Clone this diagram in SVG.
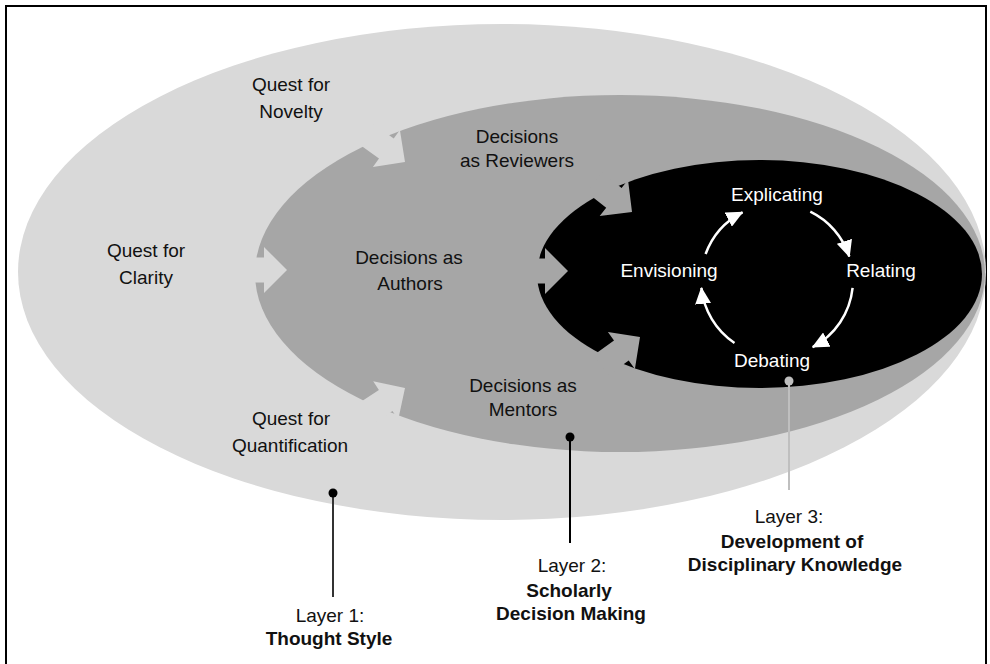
<svg xmlns="http://www.w3.org/2000/svg" width="990" height="664" viewBox="0 0 990 664">
<defs>
<style>
text{font-family:"Liberation Sans",Arial,sans-serif;font-size:19px;text-anchor:middle}
.dk{fill:#111}
.wt{fill:#fff}
.b{font-weight:bold}
.light{fill:#d9d9d9}
.mid{fill:#a6a6a6}
.cyc{fill:none;stroke:#fff;stroke-width:2.5}
</style>
<marker id="ah" markerUnits="userSpaceOnUse" markerWidth="17" markerHeight="16" refX="16" refY="8" orient="auto">
<path d="M0,0 L17,8 L0,16 z" fill="#fff"/>
</marker>
</defs>
<rect x="0" y="0" width="990" height="664" fill="#fff"/>
<rect x="6" y="6" width="980" height="680" fill="none" stroke="#000" stroke-width="2"/>

<g id="layer1-thought-style">
<ellipse class="light" cx="502" cy="272" rx="484" ry="248"/>
<text class="dk" x="291" y="91">Quest for</text>
<text class="dk" x="291" y="118">Novelty</text>
<text class="dk" x="146" y="257">Quest for</text>
<text class="dk" x="146" y="284">Clarity</text>
<text class="dk" x="291" y="425">Quest for</text>
<text class="dk" x="290" y="452">Quantification</text>
</g>

<g id="layer2-decision-making">
<ellipse class="mid" cx="620" cy="273.5" rx="365" ry="178.5"/>
<polygon class="light" points="405,162 399.9,129.9 393.7,138.4 373.5,123.7 358.8,143.9 379.0,158.6 372.9,167.1"/>
<polygon class="light" points="287,270 264,247 264,257.5 239,257.5 239,282.5 264,282.5 264,293"/>
<polygon class="light" points="405,388 373.2,381.2 378.9,390.1 357.9,403.7 371.6,424.6 392.5,411.0 398.2,419.8"/>
<text class="dk" x="517" y="143">Decisions</text>
<text class="dk" x="517" y="167">as Reviewers</text>
<text class="dk" x="409" y="264">Decisions as</text>
<text class="dk" x="410" y="290">Authors</text>
<text class="dk" x="523" y="392">Decisions as</text>
<text class="dk" x="523" y="416">Mentors</text>
</g>

<g id="layer3-disciplinary-knowledge">
<ellipse fill="#000" cx="759.5" cy="274" rx="222.5" ry="114"/>
<polygon class="mid" points="632,212 628.0,179.7 621.6,188.0 601.9,172.6 586.5,192.3 606.2,207.7 599.7,216.0"/>
<polygon class="mid" points="568,271 545,248 545,258.5 520,258.5 520,283.5 545,283.5 545,294"/>
<polygon class="mid" points="640,337 607.9,331.9 614.0,340.4 593.8,355.1 608.5,375.3 628.7,360.6 634.9,369.1"/>
</g>

<g id="explicating"><text class="wt" x="777" y="201">Explicating</text></g>
<g id="relating"><text class="wt" x="881" y="277">Relating</text></g>
<g id="debating"><text class="wt" x="772" y="367">Debating</text></g>
<g id="envisioning"><text class="wt" x="669" y="277">Envisioning</text></g>

<g id="label-layer1">
<text class="dk" x="330" y="622">Layer 1:</text>
<text class="dk b" x="329" y="645">Thought Style</text>
</g>
<g id="label-layer2">
<text class="dk" x="572" y="572">Layer 2:</text>
<text class="dk b" x="569" y="597">Scholarly</text>
<text class="dk b" x="571" y="620">Decision Making</text>
</g>
<g id="label-layer3">
<text class="dk" x="789" y="523">Layer 3:</text>
<text class="dk b" x="792" y="548">Development of</text>
<text class="dk b" x="795" y="571">Disciplinary Knowledge</text>
</g>

<g id="connectors">
<path class="cyc" d="M705.6,254.0 A76,76 0 0 1 742.5,212.3" marker-end="url(#ah)"/>
<path class="cyc" d="M810.3,211.7 A76,76 0 0 1 849.3,256.5" marker-end="url(#ah)"/>
<path class="cyc" d="M852.6,287.9 A76,76 0 0 1 812.7,347.1" marker-end="url(#ah)"/>
<path class="cyc" d="M734.5,343.0 A76,76 0 0 1 701.4,287.9" marker-end="url(#ah)"/>
<line x1="333" y1="493" x2="333" y2="597" stroke="#333" stroke-width="2"/>
<circle cx="333" cy="493" r="4.5" fill="#000"/>
<line x1="570" y1="437" x2="570" y2="543" stroke="#000" stroke-width="2"/>
<circle cx="570" cy="437" r="4.5" fill="#000"/>
<line x1="789" y1="381" x2="789" y2="490" stroke="#bfbfbf" stroke-width="2"/>
<circle cx="789" cy="381" r="4.5" fill="#bfbfbf"/>
</g>
</svg>
